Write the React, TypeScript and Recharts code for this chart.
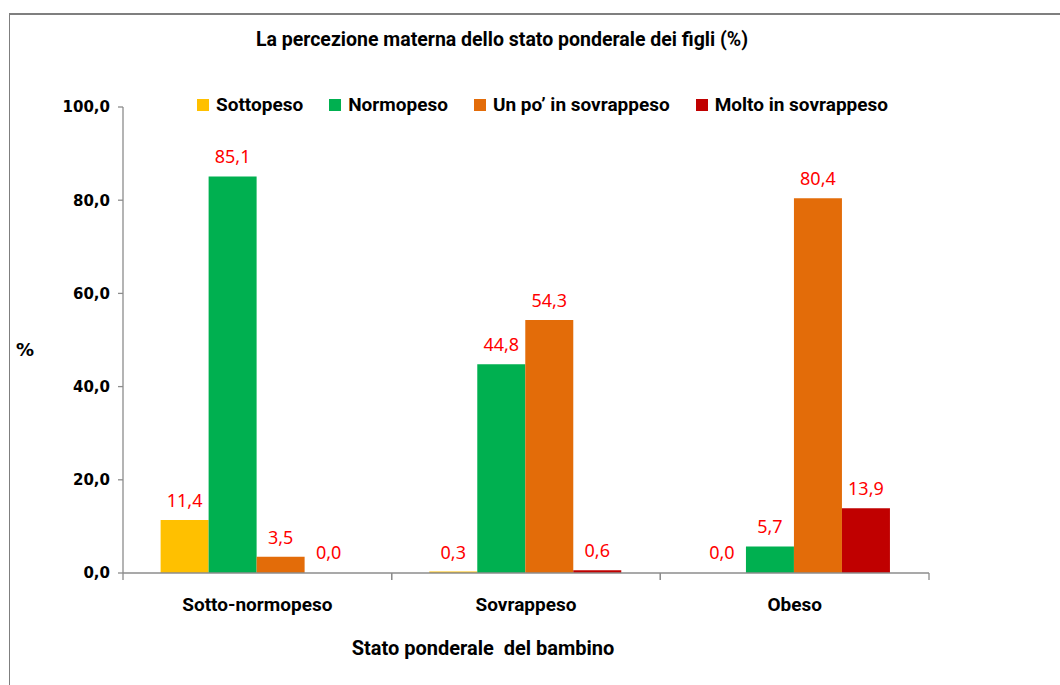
import React from 'react';
import { BarChart, Bar, XAxis, YAxis, LabelList, Legend, Cell } from 'recharts';

const categories = ['Sotto-normopeso', 'Sovrappeso', 'Obeso'];
const seriesNames = ['Sottopeso', 'Normopeso', 'Un po\u2019 in sovrappeso', 'Molto in sovrappeso'];
const seriesKeys = ['sottopeso', 'normopeso', 'unpo', 'molto'];
const seriesColors = ['#FFC000', '#00B050', '#E36C09', '#C00000'];
const sottopeso = [11.4, 0.3, 0.0];
const normopeso = [85.1, 44.8, 5.7];
const unpo = [3.5, 54.3, 80.4];
const molto = [0.0, 0.6, 13.9];
const seriesValues = [sottopeso, normopeso, unpo, molto];
const yTicks = [0, 20, 40, 60, 80, 100];

const title = 'La percezione materna dello stato ponderale dei figli (%)';
const xTitle = 'Stato ponderale  del bambino';
const yTitle = '%';

const data = categories.map((c, i) => ({
  name: c,
  sottopeso: sottopeso[i],
  normopeso: normopeso[i],
  unpo: unpo[i],
  molto: molto[i],
}));

const SANS = '"Roboto", sans-serif';
const VERD = '"DejaVu Sans", Verdana, sans-serif';
const fmt = (v: any) => Number(v).toFixed(1).replace('.', ',');

const TICK_SIZE = 6;
const TICK_MARGIN = 14;

const XTick = (props: any) => {
  const { x, y, payload, width } = props;
  const half = typeof payload?.offset === 'number' && payload.offset > 0 ? payload.offset : width / categories.length / 2;
  const axisY = y - TICK_SIZE - TICK_MARGIN;
  return (
    <g>
      <line x1={x - half} x2={x - half} y1={axisY} y2={axisY + 7} stroke="#8c8c8c" strokeWidth={1.3} />
      <line x1={x + half} x2={x + half} y1={axisY} y2={axisY + 7} stroke="#8c8c8c" strokeWidth={1.3} />
      <text x={x} y={y + 18} textAnchor="middle" fontFamily={SANS} fontWeight="bold" fontSize={19} fill="#000">
        {payload.value}
      </text>
    </g>
  );
};

const LegendContent = () => (
  <div style={{ display: 'flex', alignItems: 'center', fontFamily: SANS, fontWeight: 'bold', fontSize: 19, color: '#000', whiteSpace: 'nowrap' }}>
    {seriesNames.map((n, i) => (
      <div key={n} style={{ display: 'flex', alignItems: 'center', marginRight: 26 }}>
        <span style={{ display: 'inline-block', width: 12, height: 12, background: seriesColors[i], marginRight: 7 }} />
        <span>{n}</span>
      </div>
    ))}
  </div>
);

export default function App() {
  return (
    <div style={{ position: 'absolute', left: 0, top: 0, width: 1060, height: 685, background: '#fff', overflow: 'hidden' }}>
      <div style={{ position: 'absolute', left: 9, top: 13, width: 1200, height: 800, borderTop: '2px solid #7f7f7f', borderLeft: '1.5px solid #7f7f7f' }} />
      <div style={{ position: 'absolute', left: 0, width: 1004, top: 28, textAlign: 'center', fontFamily: SANS, fontWeight: 'bold', fontSize: 19.5, color: '#000' }}>
        {title}
      </div>
      <div style={{ position: 'absolute', left: 0, top: 0 }}>
        <BarChart
          width={1060}
          height={685}
          data={data}
          margin={{ top: 107, right: 131, bottom: 22, left: 0 }}
          barCategoryGap="14%"
          barGap={0}
        >
          <XAxis
            dataKey="name"
            height={90}
            axisLine={{ stroke: '#8c8c8c', strokeWidth: 1.3 }}
            tickLine={false}
            tickSize={TICK_SIZE}
            tickMargin={TICK_MARGIN}
            tick={<XTick />}
            interval={0}
            label={{
              content: (p: any) => {
                const vb = p.viewBox;
                return (
                  <text x={vb.x + vb.width / 2 - 43} y={vb.y + 82} textAnchor="middle" fontFamily={SANS} fontWeight="bold" fontSize={20} fill="#000" style={{ whiteSpace: 'pre' }}>
                    {xTitle}
                  </text>
                );
              },
            }}
          />
          <YAxis
            width={123}
            domain={[0, 100]}
            ticks={yTicks}
            interval={0}
            tickFormatter={fmt}
            axisLine={{ stroke: '#8c8c8c', strokeWidth: 1.3 }}
            tickLine={{ stroke: '#8c8c8c', strokeWidth: 1.3 }}
            tickSize={5}
            tickMargin={8}
            tick={{ fontFamily: VERD, fontWeight: 'bold', fontSize: 15, fill: '#000' }}
            label={{
              content: (p: any) => {
                const vb = p.viewBox;
                return (
                  <text x={vb.x + 25} y={vb.y + vb.height / 2 + 16} textAnchor="middle" fontFamily={VERD} fontWeight="bold" fontSize={18} fill="#000">
                    {yTitle}
                  </text>
                );
              },
            }}
          />
          <Legend
            layout="horizontal"
            verticalAlign="middle"
            align="center"
            content={<LegendContent />}
            wrapperStyle={{ position: 'absolute', top: 93, left: 197, width: 'auto' }}
          />
          {seriesKeys.map((k, i) => (
            <Bar
              key={k}
              dataKey={k}
              name={seriesNames[i]}
              fill={seriesColors[i]}
              isAnimationActive={false}
              minPointSize={(v: any) => (Number(v) === 0 ? 1 : 0)}
            >
              {seriesValues[i].map((v, j) => (
                <Cell key={j} fill={v === 0 ? 'transparent' : seriesColors[i]} />
              ))}
              <LabelList
                dataKey={k}
                position="top"
                offset={13}
                formatter={fmt}
                fill="#FF0000"
                style={{ fontFamily: '"Noto Sans", sans-serif', fontSize: 18, fill: '#FF0000' }}
              />
            </Bar>
          ))}
        </BarChart>
      </div>
    </div>
  );
}
